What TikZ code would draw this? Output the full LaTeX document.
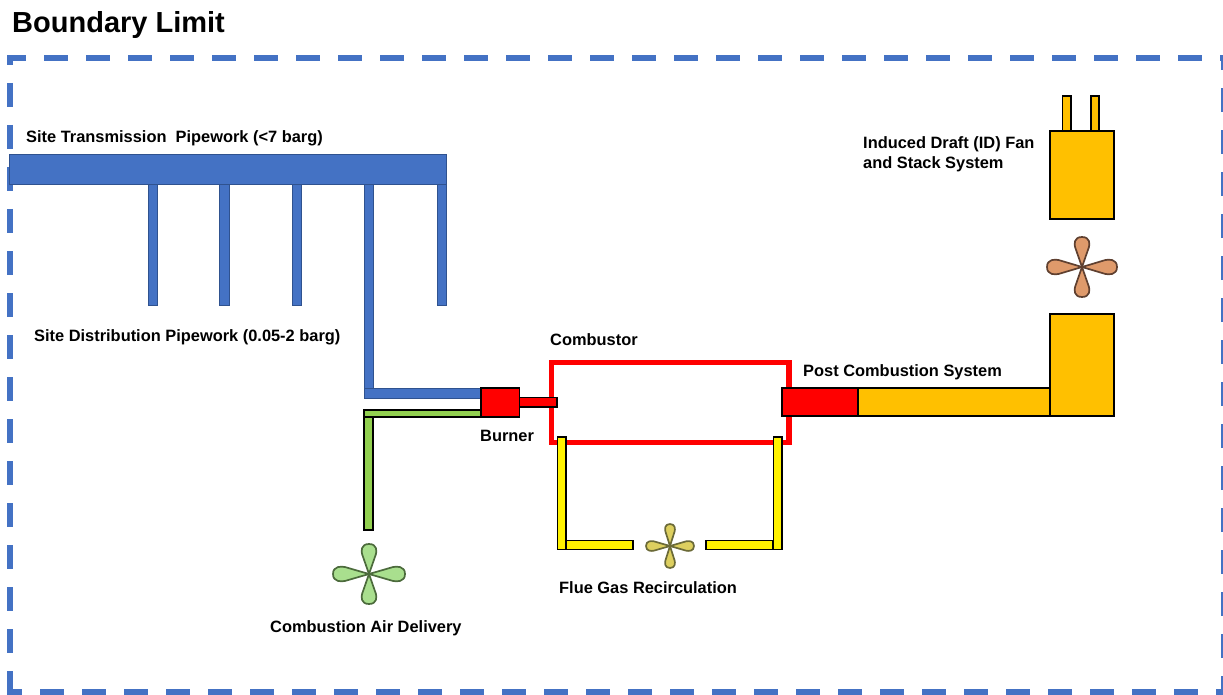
\documentclass[tikz,border=0pt]{standalone}
\usepackage{fontspec}
\setmainfont{Liberation Sans}
\definecolor{bdash}{HTML}{4472C4}
\definecolor{bedge}{HTML}{2F528F}
\definecolor{pgreen}{HTML}{92D050}
\definecolor{orange1}{HTML}{FFC000}
\definecolor{fangreen}{HTML}{A9DF8E}
\definecolor{fangreenedge}{HTML}{4C6B3C}
\definecolor{fanyellow}{HTML}{DDCF5F}
\definecolor{fanyellowedge}{HTML}{6B6A38}
\definecolor{fanbrown}{HTML}{DF9A6B}
\definecolor{fanbrownedge}{HTML}{5F4030}
\newcommand{\fanshape}[7]{%
  % cx cy Lx Ly W fill draw
  \foreach \ang/\sx/\sy in {0/#3/#5,90/#4/#5,180/#3/#5,270/#4/#5}{%
    \draw[fill=#6,draw=#7,line width=1.7pt,line join=round,shift={(#1,#2)},rotate=\ang,x=\sx pt,y=\sy pt]
      (0,0) -- (.66,.92) .. controls (.76,1.04) and (1,1.1) .. (1,0)
      .. controls (1,-1.1) and (.76,-1.04) .. (.66,-.92) -- cycle;
  }%
}
\tikzset{
  boundary/.style={draw=bdash,line width=6pt},
  bluepipe/.style={fill=bdash,draw=bedge,line width=1pt},
  greenpipe/.style={fill=pgreen,draw=black,line width=1.3pt},
  redpart/.style={fill=red,draw=black,line width=1.3pt},
  yellowpipe/.style={fill=yellow,draw=black,line width=1.3pt},
  orangepart/.style={fill=orange1,draw=black,line width=1.3pt},
  lbl/.style={font=\fontsize{16.4}{19}\selectfont\bfseries,anchor=base west,inner sep=0pt,align=left},
}
\begin{document}
\begin{tikzpicture}[x=1pt,y=-1pt]
\useasboundingbox (0,0) rectangle (1223,695);
% boundary
\draw[boundary,dash pattern=on 24pt off 18pt,dash phase=5pt] (7,58) -- (1227,58);
\draw[boundary,dash pattern=on 24pt off 18pt,dash phase=17pt] (10,58) -- (10,695);
\draw[boundary,dash pattern=on 24pt off 18pt,dash phase=12pt] (1224,58) -- (1224,695);
\draw[boundary,dash pattern=on 24pt off 18pt,dash phase=9pt] (7,692) -- (1227,692);
\node[lbl,font=\fontsize{29}{34}\selectfont\bfseries] (title) at (12,33) {Boundary Limit};
% blue pipework
\foreach \x in {148,219.5,292,437}{\draw[bluepipe] (\x,185) rectangle (\x+9.5,305);}
\draw[bluepipe] (364,185) rectangle (373.5,392);
\draw[bluepipe] (364,388) rectangle (481,398);
\draw[bluepipe] (9.5,155) rectangle (446,185);
% green
\draw[greenpipe] (364,417) rectangle (373,530);
\draw[greenpipe] (364,410) rectangle (481,417);
% combustor
\draw[draw=red,line width=5.5pt] (551.5,362.5) rectangle (789,442.5);
% burner
\draw[redpart] (519.5,397.5) rectangle (557,407);
\draw[redpart] (481,388) rectangle (519.5,417);
% recirc
\draw[yellowpipe] (566,540.8) rectangle (633,549.3);
\draw[yellowpipe] (706,540.8) rectangle (773,549.3);
\draw[yellowpipe] (557.3,437) rectangle (566,549.3);
\draw[yellowpipe] (773.3,437) rectangle (782,549.3);
% post combustion
\draw[orangepart] (858,388) rectangle (1050,416);
\draw[redpart] (782,388) rectangle (858,416);
\draw[orangepart] (1050,314) rectangle (1114,416);
% stack
\draw[orangepart] (1062.5,96) rectangle (1071,131);
\draw[orangepart] (1091,96) rectangle (1099,131);
\draw[orangepart] (1050,131) rectangle (1114,219);
% fans
\fanshape{369}{574}{36}{30}{7.5}{fangreen}{fangreenedge}
\fanshape{670}{546}{24}{22}{5}{fanyellow}{fanyellowedge}
\fanshape{1082}{267}{35}{30}{7.5}{fanbrown}{fanbrownedge}
% labels
\node[lbl] (l1) at (26,143) {Site Transmission\ \ Pipework (<7 barg)};
\node[lbl] (l2) at (34,341) {Site Distribution Pipework (0.05-2 barg)};
\node[lbl] (l3) at (550,345) {Combustor};
\node[lbl] (l4) at (803,376) {Post Combustion System};
\node[lbl] (l5) at (480,441) {Burner};
\node[lbl] (l6) at (559,593) {Flue Gas Recirculation};
\node[lbl] (l7) at (270,632) {Combustion Air Delivery};
\node[lbl] (l8) at (863,149) {Induced Draft (ID) Fan};
\node[lbl] (l9) at (863,169) {and Stack System};
\end{tikzpicture}
\end{document}
